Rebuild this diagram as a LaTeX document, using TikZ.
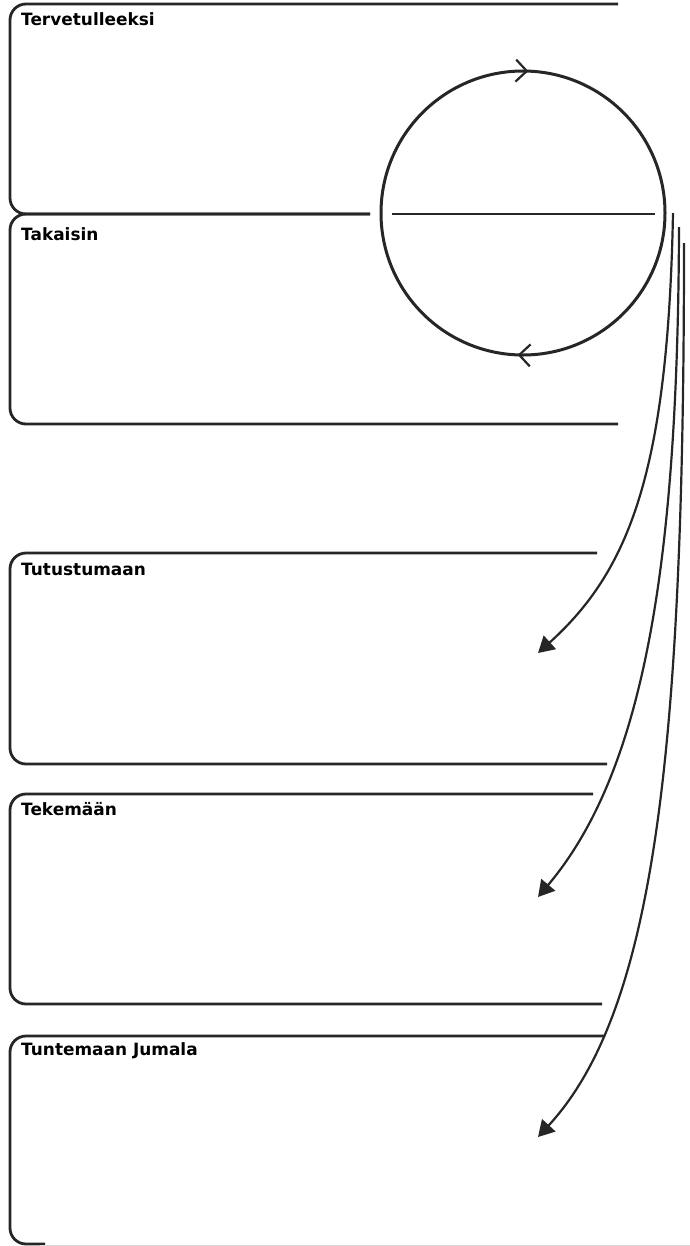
\documentclass[tikz,border=0pt]{standalone}
\usepackage{fontspec}
\usepackage{tikz}
\usetikzlibrary{arrows.meta,decorations.markings}
\newfontfamily\otsikkofont{DejaVu Sans}
\newcommand{\otsikkofontti}{\otsikkofont\fontsize{17}{20}\selectfont\bfseries}

\tikzset{
  laatikko/.style={line width=2.8bp, rounded corners=16bp, color=black!85},
  otsikko/.style={anchor=base west, inner sep=0pt, font=\otsikkofontti},
  kiertoviiva/.style={line width=3bp, color=black!85, postaction={decorate},
    decoration={markings,
      mark=at position 0.244 with {\arrowreversed[line width=2.2bp]{Straight Barb[length=11bp,width=22bp]}},
      mark=at position 0.744 with {\arrowreversed[line width=2.2bp]{Straight Barb[length=11bp,width=22bp]}}}},
  nuoli/.style={line width=2.2bp, color=black!85, -{Triangle[length=16bp,width=18bp]}}
}

\begin{document}
\begin{tikzpicture}[x=1bp,y=-1bp]
  \useasboundingbox (0,0) rectangle (690,1246);

  % Laatikot
  \draw[laatikko] (618,4) -- (10,4) -- (10,214) -- (370,214);
  \draw[laatikko] (618,424) -- (10,424) -- (10,214) -- (370,214);
  \draw[laatikko] (597,553) -- (10,553) -- (10,764) -- (607,764);
  \draw[laatikko] (593,794) -- (10,794) -- (10,1004) -- (602,1004);
  \draw[laatikko] (605,1036) -- (10,1036) -- (10,1244) -- (45,1244);
  \draw[line width=1bp, black!15] (40,1245.5) -- (690,1245.5);

  % Otsikot
  \node[otsikko] (tervetuloa) at (21,25) {Tervetulleeksi};
  \node[otsikko] (takaisin) at (21,240) {Takaisin};
  \node[otsikko] (tutustu) at (21,575) {Tutustumaan};
  \node[otsikko] (tekema) at (21,815) {Tekemään};
  \node[otsikko] (tunte) at (21,1055) {Tuntemaan Jumala};

  % Kierto
  \coordinate (keskus) at (523,213);
  \draw[kiertoviiva] (keskus) circle[radius=142bp];
  \draw[laatikko] (392,214) -- (655,214);

  % Nuolet
  \coordinate (alku1) at (673,213);
  \coordinate (alku2) at (679,227);
  \coordinate (alku3) at (684,243);
  \coordinate (loppu1) at (538,653);
  \coordinate (loppu2) at (538,897);
  \coordinate (loppu3) at (538,1137);
  \draw[nuoli] (alku1) .. controls (668,470) and (630,570) .. (loppu1);
  \draw[nuoli] (alku2) .. controls (678,560) and (645,770) .. (loppu2);
  \draw[nuoli] (alku3) .. controls (684,750) and (655,1010) .. (loppu3);
\end{tikzpicture}
\end{document}
